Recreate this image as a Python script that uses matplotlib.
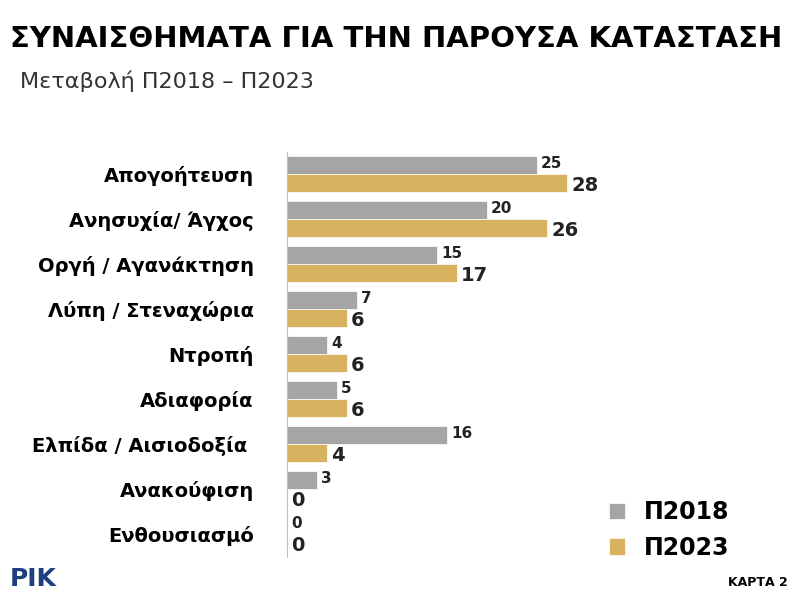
import matplotlib
matplotlib.use("Agg")
import matplotlib.pyplot as plt
import numpy as np

categories = ["Απογοήτευση", "Ανησυχία/ Άγχος", "Οργή / Αγανάκτηση", "Λύπη / Στεναχώρια",
              "Ντροπή", "Αδιαφορία", "Ελπίδα / Αισιοδοξία ", "Ανακούφιση", "Ενθουσιασμό"]
p2018 = [25, 20, 15, 7, 4, 5, 16, 3, 0]
p2023 = [28, 26, 17, 6, 6, 6, 4, 0, 0]
series_names = ["Π2018", "Π2023"]

GRAY = "#a5a5a5"
GOLD = "#d9b25f"

fig = plt.figure(figsize=(8, 6), dpi=100)
ax = fig.add_axes([0.359, 0.072, 0.5625, 0.675])

y = np.arange(len(categories))
h = 0.4
ax.barh(y - h / 2, p2018, height=h, color=GRAY, edgecolor="white", linewidth=0.5, label=series_names[0])
ax.barh(y + h / 2, p2023, height=h, color=GOLD, edgecolor="white", linewidth=0.5, label=series_names[1])

for i in range(len(categories)):
    ax.text(p2018[i] + 0.4, y[i] - h / 2 - 0.05, str(p2018[i]), va="center", ha="left",
            fontsize=11, fontweight="bold", color="#222222")
    ax.text(p2023[i] + 0.4, y[i] + h / 2 + 0.05, str(p2023[i]), va="center", ha="left",
            fontsize=14, fontweight="bold", color="#222222")

ax.set_xlim(0, 45)
ax.set_ylim(len(categories) - 0.5, -0.5)
ax.set_yticks(y)
ax.set_yticklabels(categories, fontsize=14, fontweight="bold")
ax.tick_params(axis="y", length=0, pad=24)
ax.set_xticks([])
for s in ["top", "right", "bottom"]:
    ax.spines[s].set_visible(False)
ax.spines["left"].set_color("#bfbfbf")

leg = ax.legend(loc="lower right", bbox_to_anchor=(1.03, -0.06), frameon=False,
                prop={"size": 17, "weight": "bold"}, handlelength=0.7, handleheight=0.7,
                labelspacing=0.5)

fig.text(0.012, 0.935, "ΣΥΝΑΙΣΘΗΜΑΤΑ ΓΙΑ ΤΗΝ ΠΑΡΟΥΣΑ ΚΑΤΑΣΤΑΣΗ", fontsize=21, fontweight="bold",
         va="center")
fig.text(0.025, 0.865, "Μεταβολή Π2018 – Π2023", fontsize=16, va="center", color="#333333")
fig.text(0.012, 0.035, "ΡΙΚ", fontsize=18, fontweight="bold", color="#1f3f7f", va="center")
fig.text(0.985, 0.03, "ΚΑΡΤΑ 2", fontsize=9, fontweight="bold", ha="right", va="center")

fig.savefig("out.png", dpi=100)
